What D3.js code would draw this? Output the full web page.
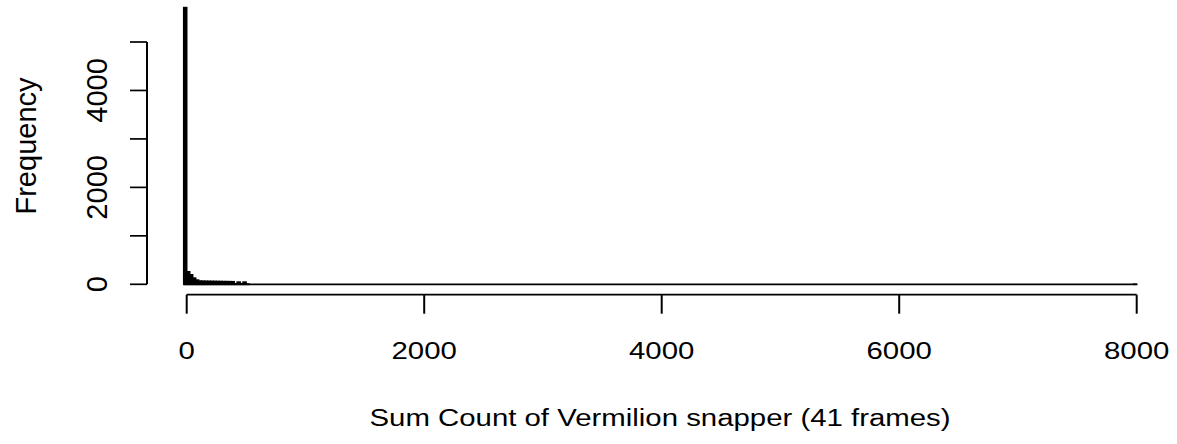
<!DOCTYPE html>
<html>
<head>
<meta charset="utf-8">
<script src="https://cdn.jsdelivr.net/npm/d3@7"></script>
<style>
  html, body { margin: 0; padding: 0; background: #fff; }
  svg { display: block; font-family: "Liberation Sans", Arial, sans-serif; }
</style>
</head>
<body>
<div id="chart"></div>
<script>
// histogram breaks: width 25, first break at -25, last at 8000
const binWidth = 25;
const firstBreak = -25;
const lastBreak = 8000;

// counts of the first bins (the rest are zero unless listed in outliers)
const headCounts = [5710, 258, 196, 128, 87, 66, 64, 62, 61, 60, 59, 58, 57, 56, 55, 54, 53, 10, 45, 12, 45, 4];
// the single far value that stretches the range to 8000
const outlierStarts = [7975];
const outlierCounts = [1];

const xTicks = [0, 2000, 4000, 6000, 8000];
const yTicks = [0, 1000, 2000, 3000, 4000, 5000];
const yLabelled = [0, 2000, 4000];

const xTitle = "Sum Count of Vermilion snapper (41 frames)";
const yTitle = "Frequency";

// build bins from the breaks
const bins = d3.range(firstBreak, lastBreak, binWidth).map((x0, i) => {
    let c = i < headCounts.length ? headCounts[i] : 0;
    const k = outlierStarts.indexOf(x0);
    if (k >= 0) c = outlierCounts[k];
    return { x0: x0, x1: x0 + binWidth, count: c };
});

const width = 1177, height = 444;
const fontSize = 23.5;
const rotFontSize = 29;
const stretch = 1.25; // horizontal text in the original is drawn wider than tall

const x = d3.scaleLinear().domain([0, 8000]).range([186.7, 1136.7]);
const y = d3.scaleLinear().domain([0, 5000]).range([284.3, 42]);

const svg = d3.select("#chart").append("svg")
    .attr("width", width)
    .attr("height", height);

// bars (zero height ones are drawn by the baseline below)
svg.append("g")
  .selectAll("rect")
  .data(bins.filter(d => d.count > 0))
  .join("rect")
    .attr("x", d => x(d.x0))
    .attr("y", d => y(d.count))
    .attr("width", d => x(d.x1) - x(d.x0))
    .attr("height", d => y(0) - y(d.count))
    .attr("fill", "#000")
    .attr("stroke", "#000")
    .attr("stroke-width", 1.6);

svg.append("line")
    .attr("x1", x(firstBreak)).attr("x2", x(lastBreak))
    .attr("y1", y(0)).attr("y2", y(0))
    .attr("stroke", "#000")
    .attr("stroke-width", 1.7);

// x axis, drawn R style (detached from the plot)
const xAxisY = 294.7;
const gx = svg.append("g").attr("stroke", "#000");
gx.append("line")
    .attr("x1", x(xTicks[0])).attr("x2", x(xTicks[xTicks.length - 1]))
    .attr("y1", xAxisY).attr("y2", xAxisY)
    .attr("stroke-width", 1.7);
gx.selectAll("line.tick")
  .data(xTicks)
  .join("line")
    .attr("class", "tick")
    .attr("x1", d => x(d)).attr("x2", d => x(d))
    .attr("y1", xAxisY).attr("y2", 313.7)
    .attr("stroke-width", 2);
svg.append("g")
  .selectAll("text")
  .data(xTicks)
  .join("text")
    .attr("transform", d => `translate(${x(d)},359) scale(${stretch},1)`)
    .attr("text-anchor", "middle")
    .style("font-size", fontSize + "px")
    .text(d => d);

// y axis
const yAxisX = 147;
const gy = svg.append("g").attr("stroke", "#000");
gy.append("line")
    .attr("x1", yAxisX).attr("x2", yAxisX)
    .attr("y1", y(0)).attr("y2", y(5000))
    .attr("stroke-width", 2);
gy.selectAll("line.tick")
  .data(yTicks)
  .join("line")
    .attr("class", "tick")
    .attr("x1", 130).attr("x2", yAxisX)
    .attr("y1", d => y(d)).attr("y2", d => y(d))
    .attr("stroke-width", 1.7);
svg.append("g")
  .selectAll("text")
  .data(yLabelled)
  .join("text")
    .attr("transform", d => `translate(106.5,${y(d)}) rotate(-90)`)
    .attr("text-anchor", "middle")
    .style("font-size", rotFontSize + "px")
    .text(d => d);

// titles
svg.append("text")
    .attr("transform", `translate(660,426) scale(${stretch},1)`)
    .attr("text-anchor", "middle")
    .style("font-size", fontSize + "px")
    .text(xTitle);

svg.append("text")
    .attr("transform", `translate(36,146) rotate(-90)`)
    .attr("text-anchor", "middle")
    .style("font-size", rotFontSize + "px")
    .text(yTitle);
</script>
</body>
</html>
